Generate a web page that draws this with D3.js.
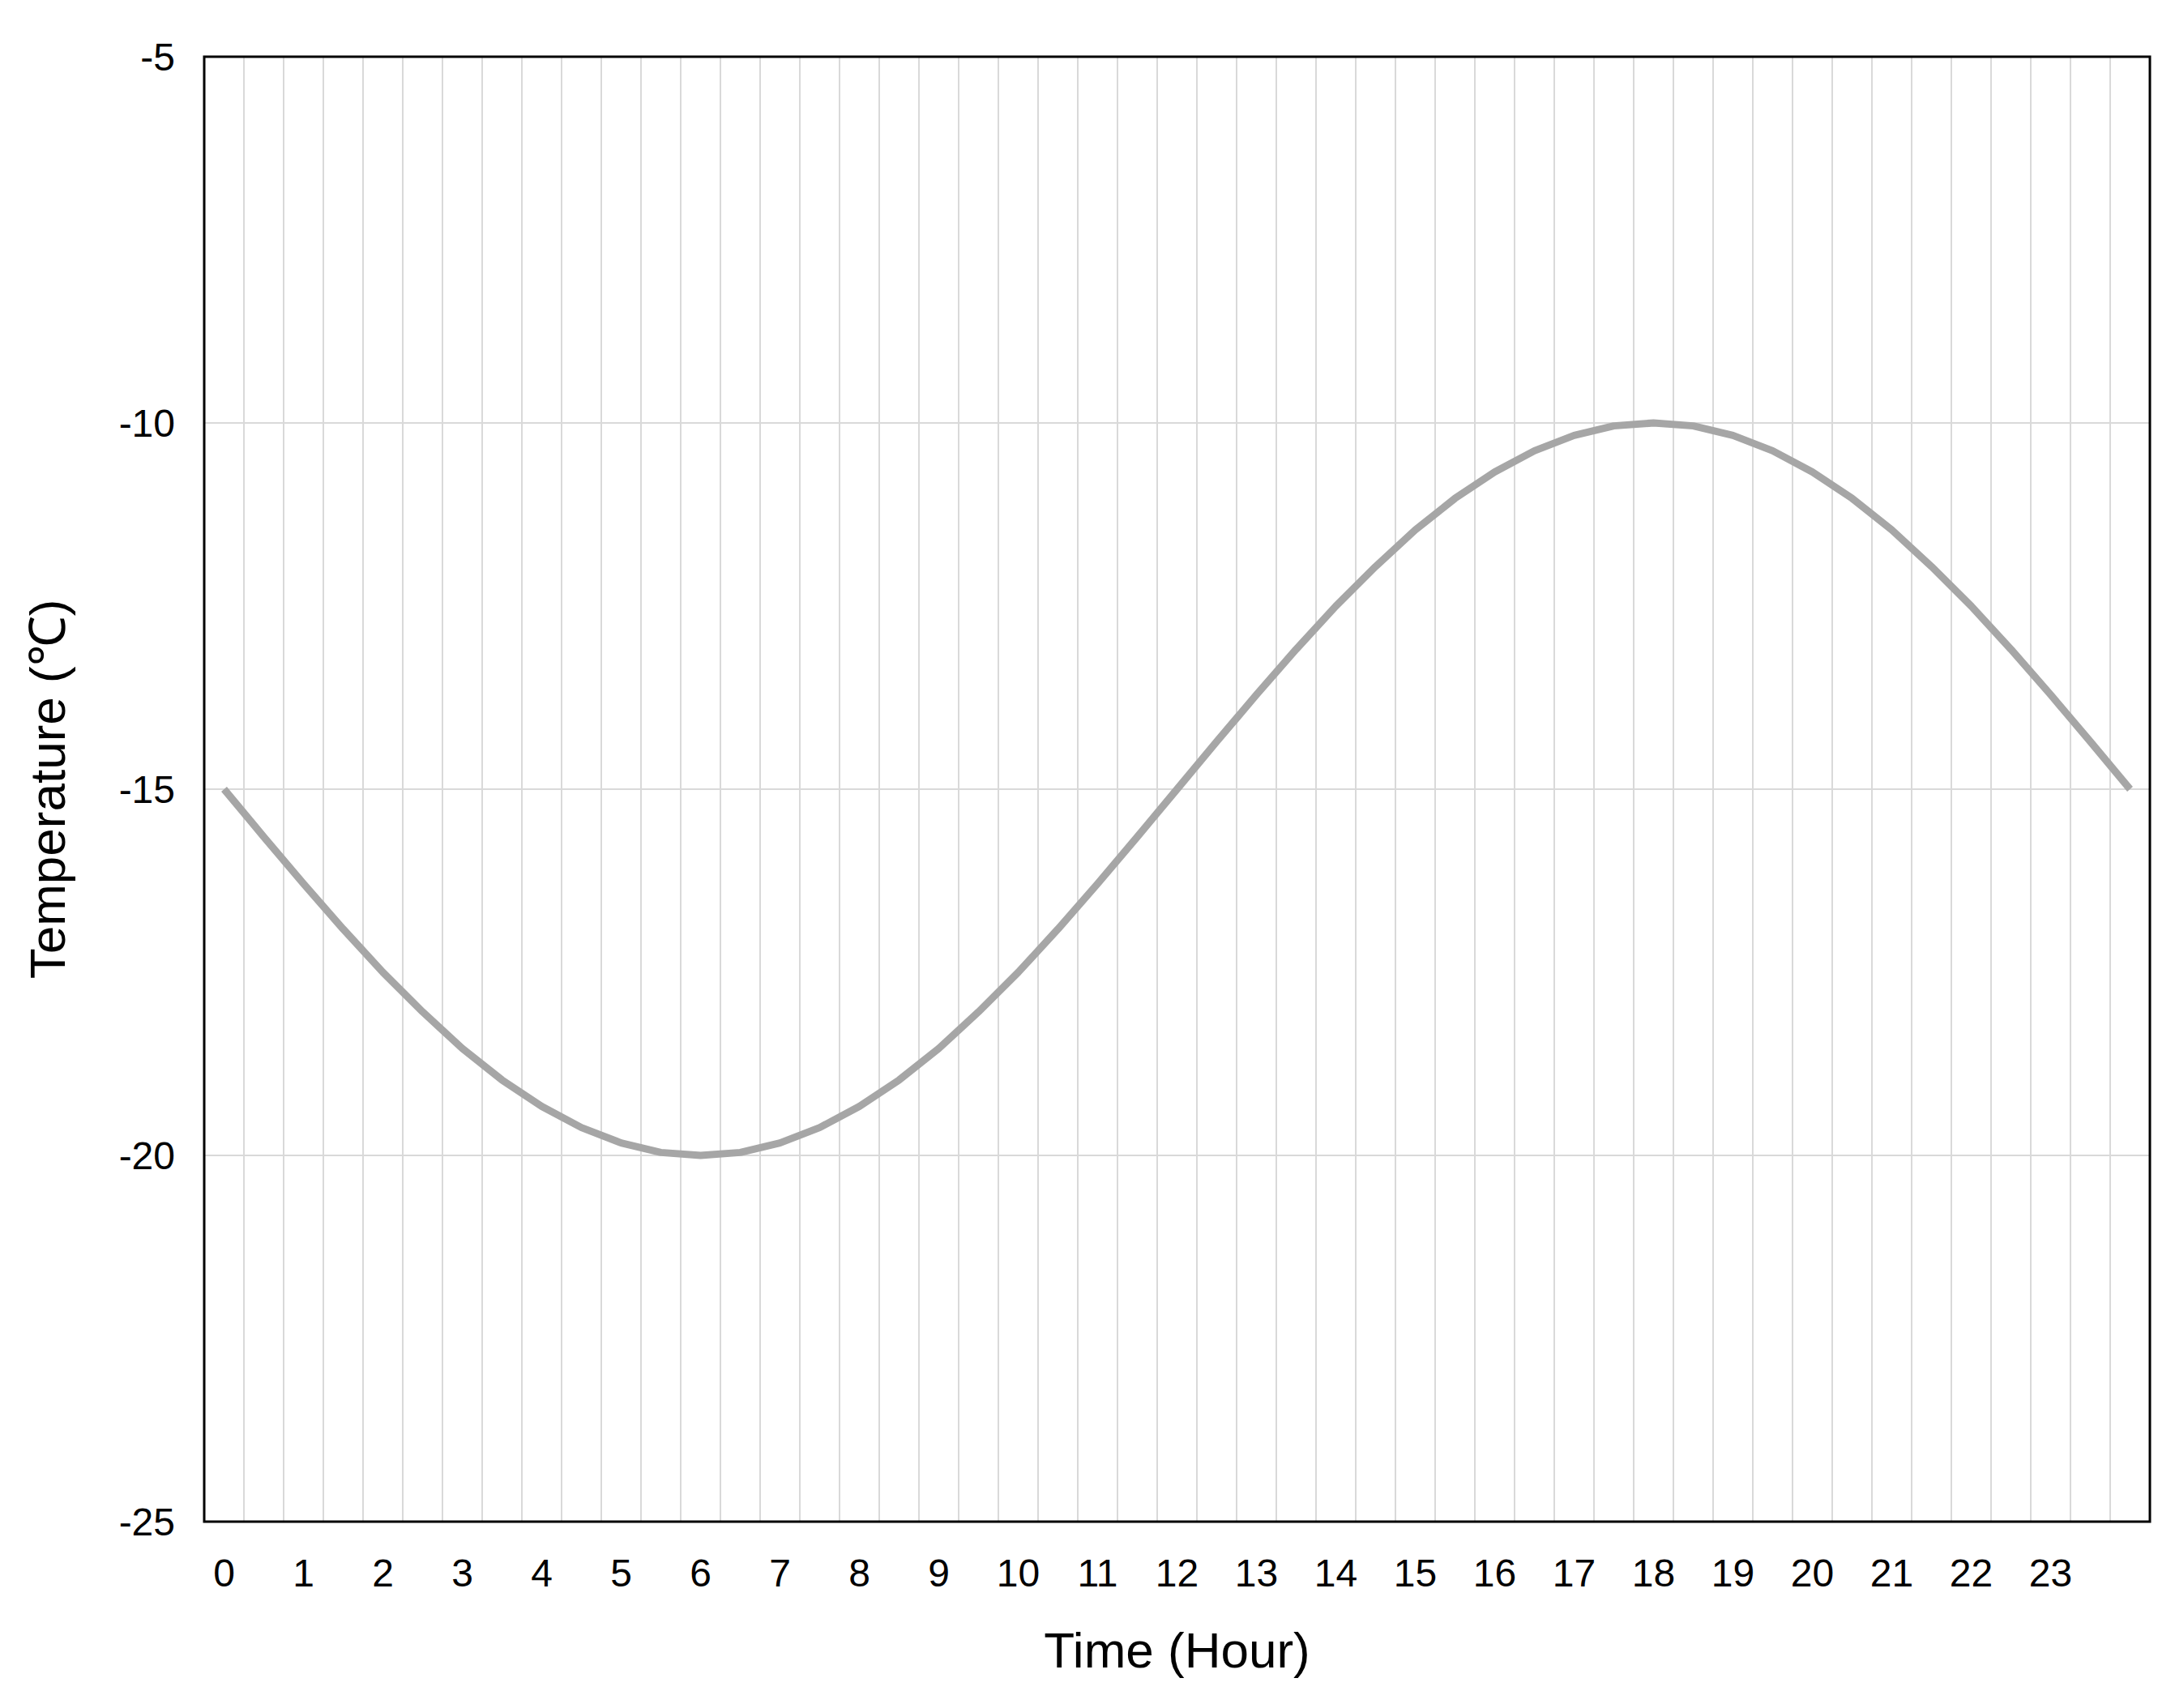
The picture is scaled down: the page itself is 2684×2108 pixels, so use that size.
<!DOCTYPE html>
<html>
<head>
<meta charset="utf-8">
<script src="https://d3js.org/d3.v7.min.js"></script>
<style>
  body { margin: 0; background: #fff; }
  text { font-family: "Liberation Sans", Arial, sans-serif; fill: #000; }
</style>
</head>
<body>
<div id="chart"></div>
<script>
    // half-hour categories 0 .. 24
    var hours = [0, 0.5, 1, 1.5, 2, 2.5, 3, 3.5, 4, 4.5, 5, 5.5, 6, 6.5, 7, 7.5, 8, 8.5, 9, 9.5, 10, 10.5, 11, 11.5,
        12, 12.5, 13, 13.5, 14, 14.5, 15, 15.5, 16, 16.5, 17, 17.5, 18, 18.5, 19, 19.5, 20, 20.5, 21, 21.5, 22, 22.5, 23, 23.5, 24];
    var temps = [-15, -15.65, -16.29, -16.91, -17.5, -18.04, -18.54, -18.97, -19.33, -19.62, -19.83, -19.96, -20,
        -19.96, -19.83, -19.62, -19.33, -18.97, -18.54, -18.04, -17.5, -16.91, -16.29, -15.65, -15,
        -14.35, -13.71, -13.09, -12.5, -11.96, -11.46, -11.03, -10.67, -10.38, -10.17, -10.04, -10,
        -10.04, -10.17, -10.38, -10.67, -11.03, -11.46, -11.96, -12.5, -13.09, -13.71, -14.35, -15];
    var yTicks = [-25, -20, -15, -10, -5];
    var xLabels = d3.range(0, 24); // labels 0..23 on whole hours

    var width = 2684, height = 2108;
    var margin = {left: 252, right: 31, top: 70, bottom: 230};

    const svg = d3.select("#chart").append("svg")
        .attr("width", width)
        .attr("height", height);

    var x = d3.scaleBand()
        .domain(hours)
        .range([margin.left, width - margin.right]);

    var y = d3.scaleLinear()
        .domain([-25, -5])
        .range([height - margin.bottom, margin.top]);

    // vertical gridlines at category boundaries
    svg.append("g").selectAll("line")
        .data(hours.slice(1))
        .enter().append("line")
        .attr("x1", d => x(d)).attr("x2", d => x(d))
        .attr("y1", y(-5)).attr("y2", y(-25))
        .attr("stroke", "#d9d9d9").attr("stroke-width", 2);

    // horizontal gridlines
    svg.append("g").selectAll("line")
        .data(yTicks.slice(1, -1))
        .enter().append("line")
        .attr("x1", x.range()[0]).attr("x2", x.range()[1])
        .attr("y1", d => y(d)).attr("y2", d => y(d))
        .attr("stroke", "#d9d9d9").attr("stroke-width", 2);

    // frame
    svg.append("rect")
        .attr("x", x.range()[0]).attr("y", y(-5))
        .attr("width", x.range()[1] - x.range()[0])
        .attr("height", y(-25) - y(-5))
        .attr("fill", "none").attr("stroke", "#000").attr("stroke-width", 3);

    // line
    var line = d3.line()
        .x((d, i) => x(hours[i]) + x.bandwidth() / 2)
        .y(d => y(d));
    svg.append("path")
        .datum(temps)
        .attr("d", line)
        .attr("fill", "none")
        .attr("stroke", "#a6a6a6")
        .attr("stroke-width", 9)
        .attr("stroke-linejoin", "round");

    // y tick labels
    svg.append("g").selectAll("text")
        .data(yTicks)
        .enter().append("text")
        .attr("x", margin.left - 36)
        .attr("y", d => y(d))
        .attr("dy", "0.35em")
        .attr("text-anchor", "end")
        .attr("font-size", 48)
        .text(d => d);

    // x tick labels
    svg.append("g").selectAll("text")
        .data(xLabels)
        .enter().append("text")
        .attr("x", d => x(d) + x.bandwidth() / 2)
        .attr("y", height - margin.bottom + 80)
        .attr("text-anchor", "middle")
        .attr("font-size", 48)
        .text(d => d);

    // axis titles
    svg.append("text")
        .attr("x", (x.range()[0] + x.range()[1]) / 2)
        .attr("y", 2058)
        .attr("text-anchor", "middle")
        .attr("font-size", 62)
        .text("Time (Hour)");

    svg.append("text")
        .attr("transform", `translate(80,${(y(-5) + y(-25)) / 2}) rotate(-90)`)
        .attr("text-anchor", "middle")
        .attr("font-size", 62)
        .text("Temperature (℃)");
</script>
</body>
</html>
